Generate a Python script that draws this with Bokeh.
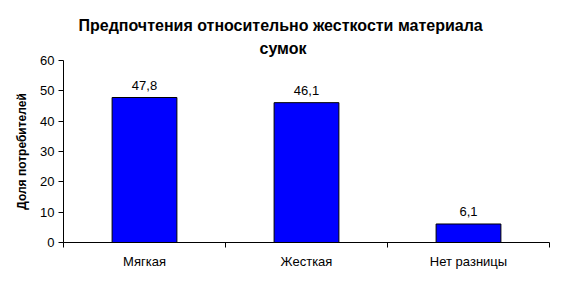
import numpy as np
from bokeh.plotting import figure
from bokeh.models import ColumnDataSource, FixedTicker, Title, Range1d
from bokeh.core.properties import value
from bokeh.embed import file_html
from bokeh.resources import INLINE

categories = ["Мягкая", "Жесткая", "Нет разницы"]
values = [47.8, 46.1, 6.1]
y_ticks = [0, 10, 20, 30, 40, 50, 60]

xs = np.arange(len(categories)) + 0.5
labels = [f"{v:.1f}".replace(".", ",") for v in values]
src = ColumnDataSource(dict(x=xs, top=values, label=labels))

FONT = "Liberation Sans"

p = figure(width=564, height=288, output_backend="svg", toolbar_location=None,
           x_range=Range1d(0, len(categories)), y_range=Range1d(0, 60),
           min_border_left=63, min_border_right=15, min_border_top=60,
           min_border_bottom=46, title=None)
p.outline_line_color = None
p.xgrid.visible = False
p.ygrid.visible = False
p.background_fill_color = "white"
p.border_fill_color = "white"

p.vbar(x="x", top="top", width=0.4, bottom=0, source=src,
       fill_color="#0000FF", line_color="black", line_width=1)
p.text(x="x", y="top", text="label", source=src, y_offset=-8,
       text_align="center", text_baseline="bottom",
       text_font=value(FONT), text_font_size="13px", text_color="black")

# x axis
xa = p.xaxis[0]
xa.ticker = FixedTicker(ticks=list(xs), minor_ticks=list(range(len(categories) + 1)))
xa.major_label_overrides = {float(x): c for x, c in zip(xs, categories)}
xa.major_tick_line_color = None
xa.major_tick_out = 0
xa.major_tick_in = 0
xa.minor_tick_line_color = "black"
xa.minor_tick_out = 5
xa.minor_tick_in = 0
xa.major_label_standoff = 6
xa.major_label_text_font = FONT
xa.major_label_text_font_size = "13px"
xa.major_label_text_color = "black"
xa.axis_line_color = "black"

# y axis
ya = p.yaxis[0]
ya.ticker = FixedTicker(ticks=y_ticks, minor_ticks=[])
ya.major_tick_out = 5
ya.major_tick_in = 0
ya.major_label_standoff = 4
ya.major_label_text_font = FONT
ya.major_label_text_font_size = "13px"
ya.major_label_text_color = "black"
ya.axis_label = "Доля потребителей"
ya.axis_label_text_font = FONT
ya.axis_label_text_font_style = "bold"
ya.axis_label_text_font_size = "12px"
ya.axis_label_text_color = "black"
ya.axis_label_standoff = 8
ya.axis_line_color = "black"

t2 = Title(text="сумок", align="left", offset=196, text_font=FONT,
           text_font_size="16px", text_font_style="bold", text_color="black",
           standoff=8)
t1 = Title(text="Предпочтения относительно жесткости материала", align="left",
           offset=15, text_font=FONT, text_font_size="16px",
           text_font_style="bold", text_color="black", standoff=0)
p.add_layout(t2, "above")
p.add_layout(t1, "above")

open("out.html", "w").write(file_html(p, INLINE))
